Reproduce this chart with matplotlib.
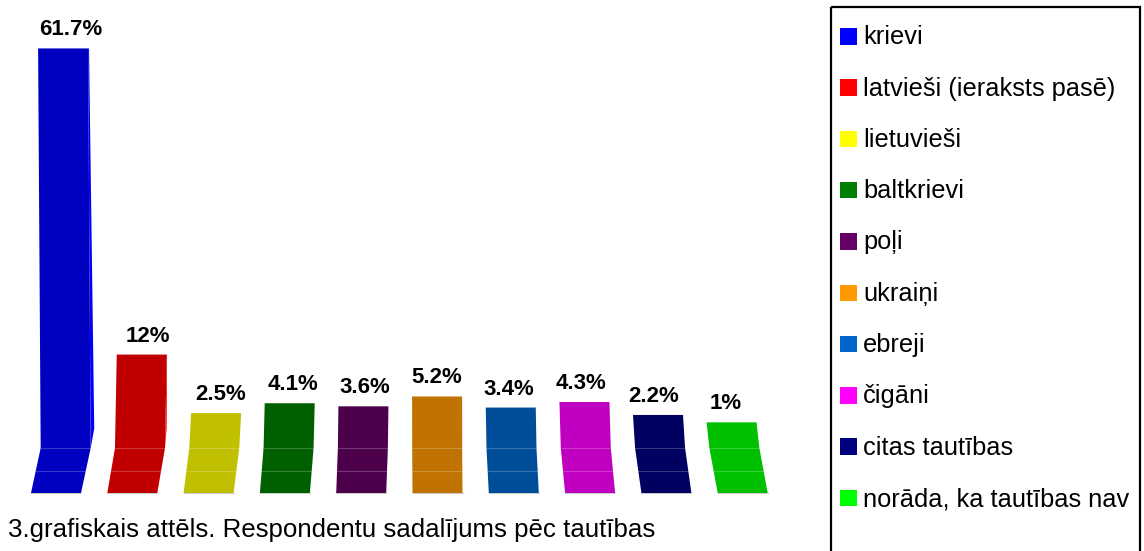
import matplotlib
matplotlib.use("Agg")
import matplotlib.pyplot as plt
from matplotlib.patches import Polygon, Rectangle

# ---------------- data ----------------
categories = ["krievi", "latvieši (ieraksts pasē)", "lietuvieši", "baltkrievi", "poļi",
              "ukraiņi", "ebreji", "čigāni", "citas tautības", "norāda, ka tautības nav"]
values = [61.7, 12, 2.5, 4.1, 3.6, 5.2, 3.4, 4.3, 2.2, 1]
value_labels = ["61.7%", "12%", "2.5%", "4.1%", "3.6%", "5.2%", "3.4%", "4.3%", "2.2%", "1%"]
legend_colors = ["#0000FF", "#FF0000", "#FFFF00", "#008000", "#660066",
                 "#FF9900", "#0066CC", "#FF00FF", "#000080", "#00FF00"]
face_colors = ["#0000C0", "#C00000", "#C0C000", "#006000", "#4C004C",
               "#C07300", "#004D99", "#C000C0", "#000060", "#00C000"]
caption = "3.grafiskais attēls. Respondentu sadalījums pēc tautības"

# ---------------- layout ----------------
W, H = 1144, 551
FONT = "Liberation Sans"
fig = plt.figure(figsize=(W / 100, H / 100), dpi=100)

PX_X = 76.3          # pixels per category
X0_PX = 56           # first bar centre (px)
PX_Y = 6.16          # pixels per percent
ZERO_PX = 428.5      # zero line from top (px)
AX_BOTTOM_PX = 500
AX_RIGHT_PX = 800

ax = fig.add_axes([0, (H - AX_BOTTOM_PX) / H, AX_RIGHT_PX / W, AX_BOTTOM_PX / H])
ax.set_xlim(-X0_PX / PX_X, (AX_RIGHT_PX - X0_PX) / PX_X)
ax.set_ylim(-(AX_BOTTOM_PX - ZERO_PX) / PX_Y, ZERO_PX / PX_Y)
ax.axis("off")

# perspective geometry (in axis units)
YB = -(493 - ZERO_PX) / PX_Y      # bottom of base
YF = -(448 - ZERO_PX) / PX_Y      # floor line
YM = -(470.5 - ZERO_PX) / PX_Y    # middle line
CENTER = 4.84
K1 = 2.0 / PX_X
K2 = 0.7 / PX_X
K3 = 0.02 / PX_X
KS = 0.9 / PX_X
BW = 50 / PX_X

for i, (v, fc, lc, lab) in enumerate(zip(values, face_colors, legend_colors, value_labels)):
    d = i - CENTER
    xb = i
    xf = xb - K1 * d
    xt = xf - K2 * d + K3 * d * v
    xz = xf + (xt - xf) * (0 - YF) / (v - YF)
    front = [(xb - BW / 2, YB), (xf - BW / 2, YF), (xt - BW / 2, v),
             (xt + BW / 2, v), (xf + BW / 2, YF), (xb + BW / 2, YB)]
    # side face (visible on the side away from the centre), only for taller bars
    s0 = KS * abs(d) * max(0.0, (v - 6) / (v + 4))
    if s0 > 0:
        if d < 0:
            side = [(xf + BW / 2, YF), (xz + BW / 2 + s0, 0), (xt + BW / 2 + 0.25 * s0, v), (xt + BW / 2, v)]
        else:
            side = [(xf - BW / 2, YF), (xz - BW / 2 - s0, 0), (xt - BW / 2 - 0.25 * s0, v), (xt - BW / 2, v)]
        ax.add_patch(Polygon(side, closed=True, facecolor=lc, edgecolor="none"))
    ax.add_patch(Polygon(front, closed=True, facecolor=fc, edgecolor="none"))
    # faint horizontal lines in the base
    tm = (YM - YB) / (YF - YB)
    xm = xb + (xf - xb) * tm
    ax.plot([xf - BW / 2, xf + BW / 2], [YF, YF], color="white", alpha=0.22, lw=0.8)
    ax.plot([xm - BW / 2, xm + BW / 2], [YM, YM], color="white", alpha=0.22, lw=0.8)
    ax.plot([xb - BW / 2, xb + BW / 2], [YB, YB], color="black", alpha=0.2, lw=0.8)
    # value label
    ax.text(xt - 0.02 * d, v + 13 / PX_Y, lab, ha="center", va="baseline",
            fontsize=16, fontweight="bold", family=FONT, color="black")

# ---------------- legend & caption (pixel overlay) ----------------
ov = fig.add_axes([0, 0, 1, 1])
ov.set_xlim(0, W)
ov.set_ylim(H, 0)
ov.axis("off")
ov.add_patch(Rectangle((831, 7), 309, 560, facecolor="none", edgecolor="black", lw=1.6))
for i, (cat, lc) in enumerate(zip(categories, legend_colors)):
    y0 = 28 + 51.3 * i
    ov.add_patch(Rectangle((840, y0), 17, 16.5, facecolor=lc, edgecolor="none"))
    ov.text(863, y0 + 16.3, cat, ha="left", va="baseline", fontsize=18.3, family=FONT, color="black")

ov.text(8, 537, caption, ha="left", va="baseline", fontsize=18.6, family=FONT, color="black")

fig.savefig("out.png", dpi=100)
